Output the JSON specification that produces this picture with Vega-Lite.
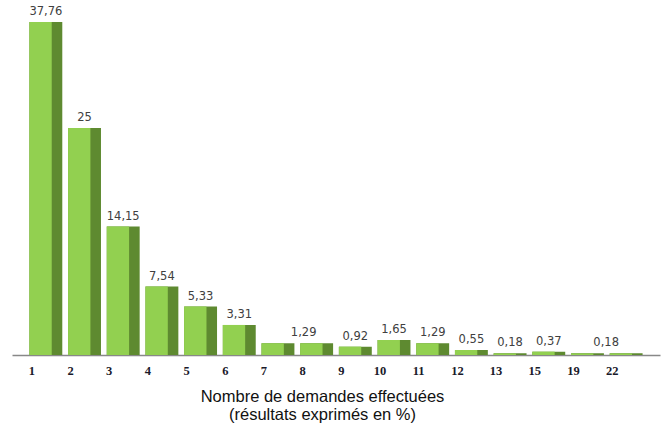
{
  "$schema": "https://vega.github.io/schema/vega-lite/v6.json",
  "autosize": {"type": "none"},
  "padding": {"left": 12, "top": 22, "right": 5, "bottom": 75},
  "width": 648,
  "height": 333,
  "background": "white",
  "config": {"view": {"stroke": null}},
  "data": {
    "values": [
      {"n": "1", "pct": 37.76, "label": "37,76"},
      {"n": "2", "pct": 25, "label": "25"},
      {"n": "3", "pct": 14.15, "label": "14,15"},
      {"n": "4", "pct": 7.54, "label": "7,54"},
      {"n": "5", "pct": 5.33, "label": "5,33"},
      {"n": "6", "pct": 3.31, "label": "3,31"},
      {"n": "7", "pct": 1.29, "label": ""},
      {"n": "8", "pct": 1.29, "label": "1,29"},
      {"n": "9", "pct": 0.92, "label": "0,92"},
      {"n": "10", "pct": 1.65, "label": "1,65"},
      {"n": "11", "pct": 1.29, "label": "1,29"},
      {"n": "12", "pct": 0.55, "label": "0,55"},
      {"n": "13", "pct": 0.18, "label": "0,18"},
      {"n": "15", "pct": 0.37, "label": "0,37"},
      {"n": "19", "pct": 0.18, "label": ""},
      {"n": "22", "pct": 0.18, "label": "0,18"}
    ]
  },
  "encoding": {
    "x": {
      "field": "n",
      "type": "ordinal",
      "sort": null,
      "scale": {"paddingInner": 0.15, "paddingOuter": 0.45},
      "axis": {
        "title": ["Nombre de demandes effectuées", "(résultats exprimés en %)"],
        "titleFont": "Liberation Sans",
        "titleFontSize": 16.5,
        "titleFontWeight": "normal",
        "titleColor": "#111111",
        "titleLineHeight": 18,
        "titlePadding": 12,
        "titleX": 310,
        "titleAlign": "center",
        "labelAngle": 0,
        "labelFont": "Liberation Serif",
        "labelFontSize": 12.5,
        "labelFontWeight": "bold",
        "labelColor": "#1a1a2a",
        "labelOffset": -14,
        "labelPadding": 9,
        "ticks": false,
        "domainColor": "#888888",
        "domainWidth": 1.5
      }
    },
    "y": {
      "field": "pct",
      "type": "quantitative",
      "scale": {"domain": [0, 36.67], "clamp": true, "nice": false},
      "axis": null
    }
  },
  "layer": [
    {"mark": {"type": "bar", "color": "#5E8A30"}},
    {"mark": {"type": "bar", "color": "#92D050", "width": {"band": 0.68}, "xOffset": -5.3}},
    {
      "transform": [{"filter": "datum.n != '8' && datum.n != '22'"}],
      "mark": {"type": "text", "baseline": "bottom", "dy": -5, "font": "DejaVu Sans", "fontSize": 11.5, "color": "#404040"},
      "encoding": {"text": {"field": "label"}}
    },
    {
      "transform": [{"filter": "datum.n == '8'"}],
      "mark": {"type": "text", "baseline": "bottom", "dy": -5, "dx": -13, "font": "DejaVu Sans", "fontSize": 11.5, "color": "#404040"},
      "encoding": {"text": {"field": "label"}}
    },
    {
      "transform": [{"filter": "datum.n == '22'"}],
      "mark": {"type": "text", "baseline": "bottom", "dy": -5, "dx": -20, "font": "DejaVu Sans", "fontSize": 11.5, "color": "#404040"},
      "encoding": {"text": {"field": "label"}}
    }
  ]
}
